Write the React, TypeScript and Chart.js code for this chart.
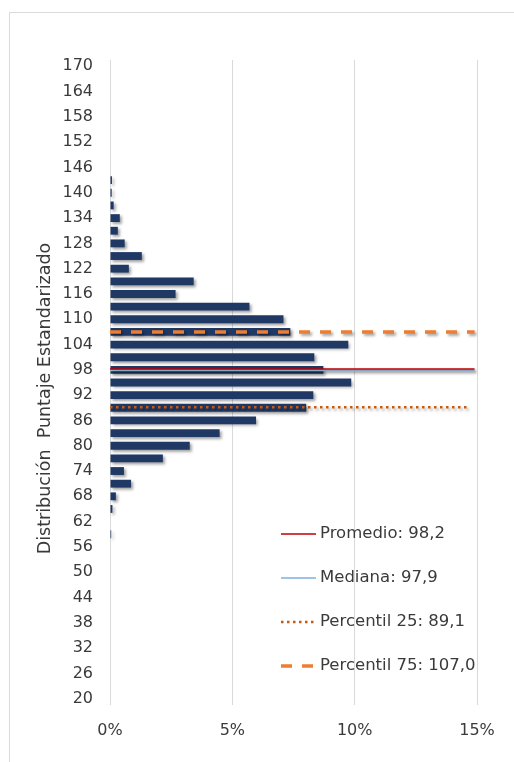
import { useEffect, useRef } from 'react';
import { Chart, registerables } from 'chart.js';

Chart.register(...registerables);

// score classes (bar centres), top to bottom
const scoreClasses = [
  170, 167, 164, 161, 158, 155, 152, 149, 146, 143,
  140, 137, 134, 131, 128, 125, 122, 119, 116, 113,
  110, 107, 104, 101, 98, 95, 92, 89, 86, 83,
  80, 77, 74, 71, 68, 65, 62, 59, 56, 53,
  50, 47, 44, 41, 38, 35, 32, 29, 26, 23, 20,
];

// share of students per class (%)
const shareValues = [
  0, 0, 0, 0, 0, 0, 0, 0, 0, 0.08,
  0.07, 0.15, 0.4, 0.32, 0.6, 1.3, 0.77, 3.42, 2.68, 5.7,
  7.09, 7.37, 9.74, 8.35, 8.72, 9.86, 8.31, 8.02, 5.97, 4.48,
  3.26, 2.16, 0.57, 0.86, 0.24, 0.1, 0, 0.05, 0, 0,
  0, 0, 0, 0, 0, 0, 0, 0, 0, 0, 0,
];

const yTickValues = [
  170, 164, 158, 152, 146, 140, 134, 128, 122, 116, 110, 104, 98,
  92, 86, 80, 74, 68, 62, 56, 50, 44, 38, 32, 26, 20,
];

const statNames = ['Promedio: 98,2', 'Mediana: 97,9', 'Percentil 25: 89,1', 'Percentil 75: 107,0'];
const statValues = [98.2, 97.9, 89.1, 107.0];
const statLineEnds = [14.9, 14.9, 14.7, 14.9];
const statColors = ['#C00000', '#9DC3E6', '#C55A11', '#ED7D31'];
const statWidths = [1.5, 2, 2.5, 3.5];
const statDashes: number[][] = [[], [], [2.5, 3.5], [11, 10]];

const axisTitle = 'Distribución  Puntaje Estandarizado';
const FONT = "'DejaVu Sans', sans-serif";
const TEXT = '#3a3a3a';

export default function App() {
  const ref = useRef<HTMLCanvasElement | null>(null);

  useEffect(() => {
    if (!ref.current) return;

    const frame = {
      id: 'frame',
      beforeDraw(chart: any) {
        const ctx = chart.ctx;
        ctx.save();
        ctx.strokeStyle = '#D9D9D9';
        ctx.lineWidth = 1;
        ctx.beginPath();
        ctx.moveTo(9.5, 800);
        ctx.lineTo(9.5, 12.5);
        ctx.lineTo(600, 12.5);
        ctx.stroke();
        ctx.restore();
      },
    };

    const shadow = {
      id: 'shadow',
      beforeDatasetsDraw(chart: any) {
        const ctx = chart.ctx;
        ctx.save();
        ctx.shadowColor = 'rgba(0,0,0,0.38)';
        ctx.shadowBlur = 3;
        ctx.shadowOffsetX = 2;
        ctx.shadowOffsetY = 2;
      },
      afterDatasetsDraw(chart: any) {
        chart.ctx.restore();
      },
    };

    const extras = {
      id: 'extras',
      afterDraw(chart: any) {
        const ctx = chart.ctx;
        const area = chart.chartArea;
        // axis title
        ctx.save();
        ctx.translate(45, (area.top + area.bottom) / 2 + 16);
        ctx.rotate(-Math.PI / 2);
        ctx.font = `17.5px ${FONT}`;
        ctx.fillStyle = TEXT;
        ctx.textAlign = 'center';
        ctx.textBaseline = 'middle';
        ctx.fillText(axisTitle, 0, 0);
        ctx.restore();
        // legend
        const ds = chart.data.datasets;
        let row = 0;
        for (let i = 0; i < ds.length; i++) {
          const d = ds[i];
          if (d.type !== 'line') continue;
          const y = area.bottom - 171 + row * 44;
          const x0 = area.right - 196;
          ctx.save();
          ctx.strokeStyle = d.borderColor;
          ctx.lineWidth = d.borderWidth;
          ctx.setLineDash(d.borderDash || []);
          ctx.beginPath();
          ctx.moveTo(x0, y);
          ctx.lineTo(x0 + 35, y);
          ctx.stroke();
          ctx.restore();
          ctx.save();
          ctx.font = `16.5px ${FONT}`;
          ctx.fillStyle = TEXT;
          ctx.textAlign = 'left';
          ctx.textBaseline = 'middle';
          ctx.fillText(d.label, x0 + 39, y);
          ctx.restore();
          row++;
        }
      },
    };

    const lineSets = statValues.map((v, i) => ({
      type: 'line' as const,
      label: statNames[i],
      data: [{ x: 0, y: v }, { x: statLineEnds[i], y: v }],
      borderColor: statColors[i],
      borderWidth: statWidths[i],
      borderDash: statDashes[i],
      borderCapStyle: 'butt' as const,
      pointRadius: 0,
      fill: false,
      order: 0,
    }));

    const chart = new Chart(ref.current, {
      type: 'bar',
      data: {
        datasets: [
          {
            type: 'bar',
            label: 'Distribución',
            data: scoreClasses.map((s, i) => ({ x: shareValues[i], y: s })),
            backgroundColor: '#1F3864',
            barPercentage: 0.62,
            categoryPercentage: 1,
            order: 1,
          } as any,
          ...lineSets,
        ],
      },
      options: {
        indexAxis: 'y',
        animation: false,
        responsive: true,
        maintainAspectRatio: false,
        layout: { padding: { left: 9, top: 60, right: 37, bottom: 0 } },
        plugins: {
          legend: { display: false },
          tooltip: { enabled: false },
        },
        scales: {
          x: {
            type: 'linear',
            position: 'bottom',
            min: 0,
            max: 15,
            ticks: {
              stepSize: 5,
              padding: 16,
              color: TEXT,
              font: { family: FONT, size: 16 },
              callback: (v: any) => `${v}%`,
            },
            grid: { color: '#D9D9D9', drawTicks: false },
            border: { display: false },
            afterFit: (s: any) => { s.height = 57; },
          },
          y: {
            type: 'linear',
            position: 'left',
            offset: false,
            min: 18.5,
            max: 171.5,
            bounds: 'data',
            grid: { display: false, drawTicks: false, offset: false },
            border: { display: false },
            ticks: {
              padding: 17,
              autoSkip: false,
              color: TEXT,
              font: { family: FONT, size: 16 },
              callback: (v: any) => String(v),
            },
            afterBuildTicks: (s: any) => {
              s.ticks = yTickValues.map((v) => ({ value: v }));
            },
            afterFit: (s: any) => { s.width = 101; },
          },
        },
      } as any,
      plugins: [frame, shadow, extras],
    });

    return () => chart.destroy();
  }, []);

  return (
    <div style={{ position: 'fixed', left: 0, top: 0, width: 514, height: 762, background: '#fff' }}>
      <canvas ref={ref} />
    </div>
  );
}
